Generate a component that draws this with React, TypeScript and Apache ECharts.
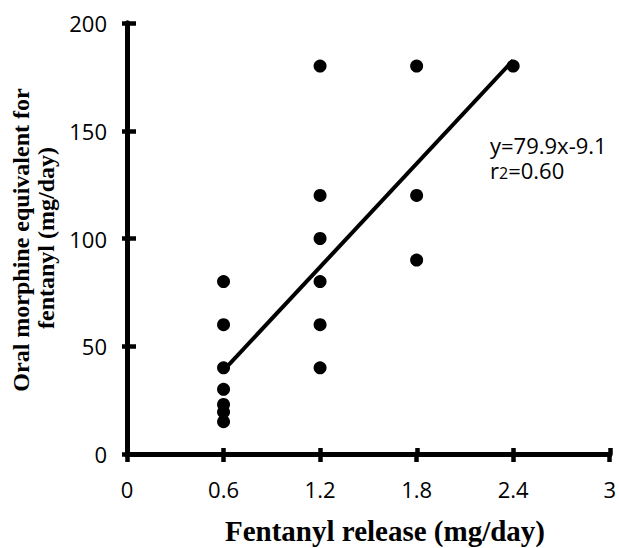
import React, { useEffect, useRef } from "react";
import * as echarts from "echarts";

const pointX = [0.6, 0.6, 0.6, 0.6, 0.6, 0.6, 0.6, 1.2, 1.2, 1.2, 1.2, 1.2, 1.2, 1.8, 1.8, 1.8, 2.4];
const pointY = [80, 60, 40, 30, 23, 19.5, 15, 180, 120, 100, 80, 60, 40, 180, 120, 90, 180];
const fitX = [0.6, 2.4];
const fitY = [38.8, 182.7];
const xTicks = [0, 0.6, 1.2, 1.8, 2.4, 3];
const yTicks = [0, 50, 100, 150, 200];
const equationText = "y=79.9x-9.1";
const rLabel = "r";
const rSub = "2";
const rValue = "=0.60";
const xTitle = "Fentanyl release (mg/day)";
const yTitle1 = "Oral morphine equivalent for";
const yTitle2 = "fentanyl (mg/day)";

const SANS = '"Open Sans", "Noto Sans", sans-serif';
const SERIF = '"Liberation Serif", "Times New Roman", serif';

export default function App() {
  const ref = useRef<HTMLDivElement>(null);
  useEffect(() => {
    if (!ref.current) return;
    const chart = echarts.init(ref.current, null, { renderer: "svg" });
    const grid = () => ({ left: 127, right: 9, top: 23, bottom: 94 });
    const axisLine = () => ({ show: true, lineStyle: { color: "#000", width: 5 } });
    const tick = (inside: boolean, length: number) => ({
      show: true, inside, length, lineStyle: { color: "#000", width: 4.5 },
    });
    const fmtX = (v: number) => {
      const r = Math.round(v * 10) / 10;
      return xTicks.includes(r) ? String(r) : "";
    };
    chart.setOption({
      animation: false,
      grid: [grid(), grid()],
      xAxis: [
        {
          type: "value", gridIndex: 0, min: 0, max: 3, interval: 0.6,
          axisLine: axisLine(), splitLine: { show: false },
          axisTick: tick(false, 8),
          axisLabel: { color: "#000", fontFamily: SANS, fontSize: 22, margin: 24, formatter: fmtX },
        },
        {
          type: "value", gridIndex: 1, min: 0, max: 3, interval: 0.6,
          axisLine: axisLine(), splitLine: { show: false },
          axisTick: tick(true, 6),
          axisLabel: { show: false },
        },
      ],
      yAxis: [
        {
          type: "value", gridIndex: 0, min: 0, max: 200, interval: 50,
          axisLine: axisLine(), splitLine: { show: false },
          axisTick: tick(false, 5),
          axisLabel: { color: "#000", fontFamily: SANS, fontSize: 22, margin: 20, formatter: (v: number) => (yTicks.includes(v) ? String(v) : "") },
        },
        {
          type: "value", gridIndex: 1, min: 0, max: 200, interval: 50,
          axisLine: axisLine(), splitLine: { show: false },
          axisTick: tick(true, 9),
          axisLabel: { show: false },
        },
      ],
      series: [
        {
          type: "scatter", xAxisIndex: 0, yAxisIndex: 0,
          data: pointX.map((x, i) => [x, pointY[i]]),
          symbol: "circle", symbolSize: 13,
          itemStyle: { color: "#000", opacity: 1 },
          z: 3,
        },
        {
          type: "line", xAxisIndex: 0, yAxisIndex: 0,
          data: fitX.map((x, i) => [x, fitY[i]]),
          showSymbol: false, symbol: "none",
          lineStyle: { color: "#000", width: 4 },
          z: 4,
        },
      ],
      graphic: [
        {
          type: "text", x: 490, y: 145,
          style: { text: equationText, font: `22px ${SANS}`, fill: "#000", textVerticalAlign: "middle" },
        },
        {
          type: "text", x: 490, y: 171,
          style: {
            text: `{a|${rLabel}}{b|${rSub}}{a|${rValue}}`,
            fill: "#000",
            textVerticalAlign: "middle",
            rich: {
              a: { fontFamily: SANS, fontSize: 22, lineHeight: 20, fill: "#000", verticalAlign: "bottom" },
              b: { fontFamily: SANS, fontSize: 16, lineHeight: 20, fill: "#000", verticalAlign: "bottom" },
            },
          },
        },
        {
          type: "text", x: 385, y: 531,
          style: { text: xTitle, font: `bold 29px ${SERIF}`, fill: "#000", textAlign: "center", textVerticalAlign: "middle" },
        },
        {
          type: "text", x: 21, y: 240, rotation: Math.PI / 2,
          style: { text: yTitle1, font: `bold 24px ${SERIF}`, fill: "#000", textAlign: "center", textVerticalAlign: "middle" },
        },
        {
          type: "text", x: 46, y: 238, rotation: Math.PI / 2,
          style: { text: yTitle2, font: `bold 24px ${SERIF}`, fill: "#000", textAlign: "center", textVerticalAlign: "middle" },
        },
      ],
    });
    return () => chart.dispose();
  }, []);
  return <div ref={ref} style={{ width: 619, height: 548, position: "absolute", left: 0, top: 0 }} />;
}
